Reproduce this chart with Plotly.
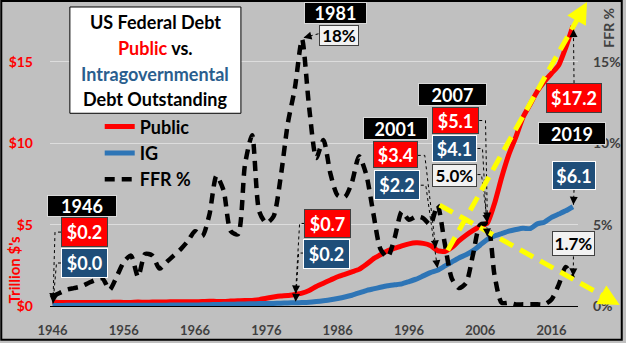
import math
import plotly.graph_objects as go

# ---------------------------------------------------------------- data
years = list(range(1946, 2020))

# Debt held by the public, trillions of dollars
public_debt = [
    0.24, 0.22, 0.22, 0.21,
    0.22, 0.21, 0.21, 0.22, 0.22, 0.23, 0.22, 0.22, 0.24, 0.23,
    0.24, 0.24, 0.25, 0.26, 0.26, 0.26, 0.26, 0.27, 0.29, 0.28,
    0.28, 0.30, 0.32, 0.34, 0.34, 0.39, 0.48, 0.55, 0.61, 0.64,
    0.71, 0.79, 0.95, 1.20, 1.40, 1.60, 1.80, 1.95, 2.10, 2.25,
    2.55, 2.90, 3.15, 3.40, 3.55, 3.70, 3.82, 3.88, 3.85, 3.72,
    3.40, 3.35, 3.60, 4.00, 4.35, 4.65, 4.90, 5.10, 6.30, 7.90,
    9.30, 10.40, 11.60, 12.40, 13.20, 13.80, 14.30, 14.80, 15.90, 17.20,
]

# Intragovernmental holdings, trillions of dollars
ig_debt = [
    0.03, 0.03, 0.04, 0.04,
    0.04, 0.04, 0.05, 0.05, 0.05, 0.05, 0.05, 0.05, 0.05, 0.05,
    0.05, 0.05, 0.05, 0.06, 0.06, 0.06, 0.06, 0.07, 0.08, 0.09,
    0.10, 0.11, 0.12, 0.13, 0.14, 0.15, 0.15, 0.16, 0.17, 0.19,
    0.20, 0.21, 0.23, 0.27, 0.32, 0.38, 0.46, 0.55, 0.66, 0.80,
    0.95, 1.05, 1.15, 1.24, 1.30, 1.36, 1.50, 1.65, 1.85, 2.05,
    2.20, 2.45, 2.70, 2.95, 3.15, 3.40, 3.75, 4.10, 4.30, 4.45,
    4.60, 4.70, 4.78, 4.76, 5.05, 5.15, 5.45, 5.65, 5.85, 6.10,
]

# Federal funds rate, percent (annual)
ffr_pct = [
    0.6, 0.8, 1.0, 1.1,
    1.2, 1.4, 1.6, 1.7, 1.0, 1.8, 2.7, 3.1, 1.8, 3.2,
    3.1, 2.3, 2.7, 3.1, 3.5, 4.0, 4.6, 4.3, 5.6, 8.0,
    7.1, 4.6, 4.4, 8.7, 10.5, 5.8, 5.1, 5.5, 7.9, 11.2,
    13.4, 16.4, 12.2, 9.1, 10.2, 8.1, 6.8, 6.7, 7.6, 9.2,
    8.1, 5.7, 3.5, 3.0, 4.2, 5.8, 5.3, 5.5, 5.4, 5.0,
    6.2, 3.9, 1.7, 1.1, 1.4, 3.2, 5.0, 5.0, 1.9, 0.2,
    0.2, 0.1, 0.1, 0.1, 0.1, 0.1, 0.4, 1.3, 2.4, 1.7,
]

x_ticks = list(range(1946, 2017, 10))
debt_ticks = [0, 5, 10, 15]
debt_tick_labels = ["$0", "$5", "$10", "$15"]
rate_ticks = [0, 5, 10, 15]
rate_tick_labels = ["0%", "5%", "10%", "15%"]
peak_rate_label = "18%"

series = {"public": public_debt, "ig": ig_debt, "ffr": ffr_pct}

# ---------------------------------------------------------------- styling
FONT = "Lato"
RED = "#FF0000"
BLUE_LINE = "#2E75B6"
BLUE_BOX = "#1F4E79"
BLUE_TEXT = "#2A5E8E"
GREY_TEXT = "#404040"
BG = "#C0C0C0"

W, H = 626, 343
L, R, T, B = 50, 45, 5, 35
PW, PH = W - L - R, H - T - B
X_RANGE = [1945.65, 2019.71]
Y_RANGE = [0, 18.5]


def paper_from_px(px, py):
    return (px - L) / PW, (H - B - py) / PH


def paper_from_data(x, y):
    return ((x - X_RANGE[0]) / (X_RANGE[1] - X_RANGE[0]),
            (y - Y_RANGE[0]) / (Y_RANGE[1] - Y_RANGE[0]))


fig = go.Figure()

fig.add_trace(go.Scatter(
    x=years, y=public_debt, name="Public", mode="lines",
    line=dict(color=RED, width=5, shape="spline", smoothing=0.5),
))
fig.add_trace(go.Scatter(
    x=years, y=ig_debt, name="IG", mode="lines",
    line=dict(color=BLUE_LINE, width=5, shape="spline", smoothing=0.5),
))
fig.add_trace(go.Scatter(
    x=years, y=ffr_pct, name="FFR %", mode="lines", yaxis="y2",
    line=dict(color="black", width=4.5, dash="10px,7px", shape="spline", smoothing=0.7),
))

# ---------------------------------------------------------------- callouts
BOX_STYLES = {
    "year": dict(bg="black", fg="white", border="#D9D9D9", size=18),
    "public": dict(bg=RED, fg="white", border="#404040", size=18),
    "ig": dict(bg=BLUE_BOX, fg="white", border="#FFFFFF", size=18),
    "ffr": dict(bg="#F2F2F2", fg="black", border="#404040", size=17),
}


def value_of(key, year):
    return series[key][years.index(year)]


def yref_of(key):
    return "y2" if key == "ffr" else "y"


def label_box(year, key, text, dx, up, w, h, style):
    s = BOX_STYLES[style]
    fig.add_annotation(
        x=year, y=value_of(key, year), xref="x", yref=yref_of(key),
        xanchor="center", yanchor="middle",
        text=text, showarrow=False, xshift=dx, yshift=up,
        width=w - 2, height=h - 2, borderpad=0, borderwidth=1,
        bgcolor=s["bg"], bordercolor=s["border"], align="center", valign="middle",
        font=dict(family=FONT, size=s["size"], color=s["fg"], weight="bold"),
    )


def leader(year, key, pts):
    path = "M" + " L".join(f"{x},{y}" for x, y in pts)
    fig.add_shape(
        type="path", xref="x", yref=yref_of(key),
        xsizemode="pixel", ysizemode="pixel",
        xanchor=year, yanchor=value_of(key, year), path=path,
        line=dict(color="black", width=1, dash="dot"),
    )
    (x1, y1), (x2, y2) = pts[-2], pts[-1]
    d = math.hypot(x1 - x2, y1 - y2)
    fig.add_annotation(
        x=year, y=value_of(key, year), xref="x", yref=yref_of(key),
        xshift=x2, yshift=y2, text="", showarrow=True,
        ax=(x1 - x2) / d * 9, ay=-(y1 - y2) / d * 9,
        arrowhead=2, arrowsize=1.6, arrowwidth=1, arrowcolor="black", standoff=0,
    )


def money(key, year):
    return f"${value_of(key, year):.1f}"


def pct(year):
    return f"{value_of('ffr', year):.1f}%"


# 1946
label_box(1946, "public", "1946", 29.5, 96, 70, 22, "year")
label_box(1946, "public", money("public", 1946), 32, 70, 47, 30, "public")
label_box(1946, "ig", money("ig", 1946), 32, 43, 47, 30, "ig")
leader(1946, "public", [(8.5, 70), (2.5, 70), (0.5, 1)])
leader(1946, "ig", [(8.5, 42.5), (4, 42.5), (0.5, 2)])

# 1980
label_box(1980, "public", money("public", 1980), 33, 71, 47, 29, "public")
label_box(1980, "ig", money("ig", 1980), 32, 49, 47, 30, "ig")
leader(1980, "public", [(9.7, 71), (4.7, 71), (0.7, 1)])
leader(1980, "ig", [(8.7, 49.7), (3.7, 49.7), (0.7, 1)])

# 1981 rate peak
label_box(1981, "ffr", "1981", 33, 26, 63, 22, "year")
label_box(1981, "ffr", peak_rate_label, 36.5, 3.4, 40, 21, "ffr")
leader(1981, "ffr", [(16.5, 5.4), (1.5, 1.5)])

# 2001
label_box(2000, "public", "2001", -42, 122, 65, 23, "year")
label_box(2000, "public", money("public", 2000), -42, 96, 45, 27, "public")
label_box(2000, "ig", money("ig", 2000), -40, 85, 46, 30, "ig")
leader(2000, "public", [(-19.7, 95.3), (-12.7, 95.3), (-1.7, 2.3)])
leader(2000, "ig", [(-16.7, 85), (-11.7, 85), (0, 2)])

# 2007
label_box(2007, "public", "2007", -35, 129, 69, 23, "year")
label_box(2007, "public", money("public", 2007), -31.6, 103, 47, 27, "public")
label_box(2007, "ig", money("ig", 2007), -32.4, 91, 45, 27, "ig")
label_box(2007, "ffr", pct(2007), -32.4, 49.6, 45, 23, "ffr")
leader(2007, "public", [(-8.2, 102.5), (-1.9, 102.5), (0, 2.5)])
leader(2007, "ig", [(-9.9, 90.8), (-4.9, 90.8), (0, 2.8)])
leader(2007, "ffr", [(-9.9, 50.1), (-5.9, 50.1), (0, 2)])

# 2019
label_box(2019, "public", money("public", 2019), 1, -72, 56, 30, "public")
label_box(2019, "ig", "2019", -1.4, 73, 68, 23, "year")
label_box(2019, "ig", money("ig", 2019), 1, 31.6, 44, 29, "ig")
label_box(2019, "ffr", pct(2019), 0.4, 34.4, 43, 25, "ffr")
leader(2019, "public", [(1.1, -57), (0.5, -3)])
leader(2019, "ig", [(1.1, 17), (0.5, 2)])
leader(2019, "ffr", [(0.5, 21.9), (0.3, 2)])

# ---------------------------------------------------------------- trend arrows
trend_arrows = [
    [(2001.44, 3.42), (2020.97, 18.68)],   # debt heading up
    [(2000.30, 6.20), (2025.57, 0.06)],    # rates heading down
]
for (xa, ya), (xb, yb) in trend_arrows:
    pa = paper_from_data(xa, ya)
    pb = paper_from_data(xb, yb)
    dxp = (pb[0] - pa[0]) * PW
    dyp = (pb[1] - pa[1]) * PH
    d = math.hypot(dxp, dyp)
    ux, uy = dxp / d, dyp / d
    stop = (pb[0] - ux * 14 / PW, pb[1] - uy * 14 / PH)
    fig.add_shape(
        type="line", xref="paper", yref="paper",
        x0=pa[0], y0=pa[1], x1=stop[0], y1=stop[1],
        line=dict(color="#FFFF00", width=5, dash="15px,8px"),
    )
    fig.add_annotation(
        x=pb[0], y=pb[1], xref="paper", yref="paper", text="", showarrow=True,
        ax=-ux * 20, ay=uy * 20, arrowhead=2, arrowsize=0.85, arrowwidth=5,
        arrowcolor="#FFFF00", standoff=0,
    )

# ---------------------------------------------------------------- title box
bx0, by0 = paper_from_px(70, 7)
bx1, by1 = paper_from_px(242, 114)
fig.add_shape(type="rect", xref="paper", yref="paper", x0=bx0, y0=by1, x1=bx1, y1=by0,
              fillcolor="white", line=dict(color="black", width=1), layer="above")
title_lines = [
    "US Federal Debt",
    f"<span style='color:{RED}'>Public</span> vs.",
    f"<span style='color:{BLUE_TEXT}'>Intragovernmental</span>",
    "Debt Outstanding",
]
for i, line in enumerate(title_lines):
    tx, ty = paper_from_px(156, 22 + 26 * i)
    fig.add_annotation(x=tx, y=ty, xref="paper", yref="paper", xanchor="center",
                       yanchor="middle", text=line, showarrow=False,
                       font=dict(family=FONT, size=18, color="black", weight="bold"))

# axis titles
tx, ty = paper_from_px(14, 271)
fig.add_annotation(x=tx, y=ty, xref="paper", yref="paper", xanchor="center",
                   yanchor="middle", text="Trillion $'s",
                   textangle=-90, showarrow=False,
                   font=dict(family=FONT, size=15, color=RED, weight="bold"))
tx, ty = paper_from_px(612, 28)
fig.add_annotation(x=tx, y=ty, xref="paper", yref="paper", xanchor="center",
                   yanchor="middle", text="FFR %",
                   textangle=-90, showarrow=False,
                   font=dict(family=FONT, size=14, color=GREY_TEXT, weight="bold"))

# outer frame
fx0, fy0 = paper_from_px(1, 1)
fx1, fy1 = paper_from_px(625, 342)
fig.add_shape(type="rect", xref="paper", yref="paper", x0=fx0, y0=fy1, x1=fx1, y1=fy0,
              line=dict(color="black", width=2), layer="above")

lx, ly = paper_from_px(100, 109)
fig.update_layout(
    width=W, height=H, autosize=False,
    margin=dict(l=L, r=R, t=T, b=B, pad=0),
    paper_bgcolor=BG, plot_bgcolor=BG,
    showlegend=True,
    legend=dict(x=lx, y=ly, xanchor="left", yanchor="top", bgcolor="rgba(0,0,0,0)",
                font=dict(family=FONT, size=18, color="black", weight="bold"),
                tracegroupgap=0, itemwidth=30),
    xaxis=dict(range=X_RANGE, tickvals=x_ticks, showgrid=False, zeroline=False,
               showline=True, linecolor="black", linewidth=1, ticks="",
               ticklabelstandoff=12,
               tickfont=dict(family=FONT, size=13, color=GREY_TEXT, weight="bold")),
    yaxis=dict(range=Y_RANGE, tickvals=debt_ticks, ticktext=debt_tick_labels,
               showgrid=True, gridcolor="#DDDDDD", gridwidth=1, zeroline=False,
               showline=False, ticks="", ticklabelstandoff=16,
               tickfont=dict(family=FONT, size=14, color=RED, weight="bold")),
    yaxis2=dict(range=Y_RANGE, tickvals=rate_ticks, ticktext=rate_tick_labels,
                overlaying="y", side="right", showgrid=False, zeroline=False,
                showline=False, ticks="", ticklabelstandoff=14,
                tickfont=dict(family=FONT, size=14, color=GREY_TEXT, weight="bold")),
)

fig.write_html("out.html")
